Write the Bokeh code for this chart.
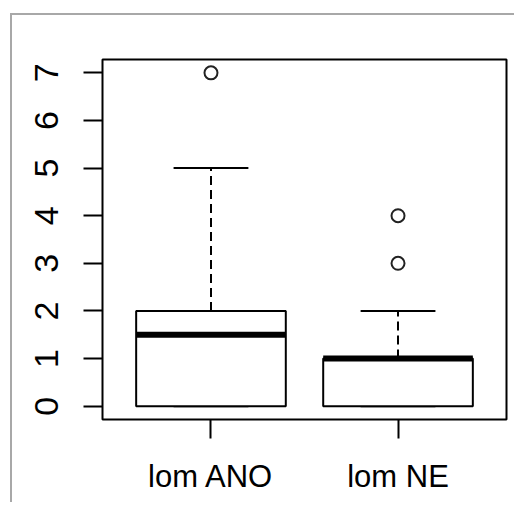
from bokeh.plotting import figure
from bokeh.models import ColumnDataSource, Range1d, FactorRange
from bokeh.transform import dodge
from bokeh.embed import file_html
from bokeh.resources import INLINE

# Data
categories = ["lom ANO", "lom NE"]
q1 = [0, 0]
median = [1.5, 1]
q3 = [2, 1]
lower = [0, 0]
upper = [5, 2]
out_cat = ["lom ANO", "lom NE", "lom NE"]
out_val = [7, 3, 4]
y_ticks = [0, 1, 2, 3, 4, 5, 6, 7]

FONT = "Liberation Sans"
GREY = "#a8a8a8"

p = figure(
    width=514, height=502,
    x_range=FactorRange(factors=categories, range_padding=0.08),
    y_range=Range1d(-0.28, 7.28),
    output_backend="svg", toolbar_location=None,
    min_border_left=102, min_border_right=8, min_border_top=59, min_border_bottom=83,
)
p.grid.visible = False
p.background_fill_color = "white"
p.border_fill_color = None
p.outline_line_color = "black"
p.outline_line_width = 2
# outer grey frame of the image (drawn behind the transparent canvas border)
p.styles = {
    "background-color": "white",
    "background-image": f"linear-gradient({GREY},{GREY}), linear-gradient({GREY},{GREY})",
    "background-size": "2px 100%, 100% 2px",
    "background-position": "10px 13px, 10px 13px",
    "background-repeat": "no-repeat",
}

src = ColumnDataSource(dict(cat=categories, q1=q1, med=median, q3=q3, lo=lower, up=upper))
xl = dodge("cat", -0.4, range=p.x_range)
xr = dodge("cat", 0.4, range=p.x_range)
cl = dodge("cat", -0.2, range=p.x_range)
cr = dodge("cat", 0.2, range=p.x_range)

# whiskers (dashed)
p.segment(x0="cat", x1="cat", y0="q3", y1="up", source=src,
          line_color="black", line_width=2, line_dash="9 5")
p.segment(x0="cat", x1="cat", y0="lo", y1="q1", source=src,
          line_color="black", line_width=2, line_dash="9 5")
# caps
p.segment(x0=cl, x1=cr, y0="up", y1="up", source=src, line_color="black", line_width=2)
p.segment(x0=cl, x1=cr, y0="lo", y1="lo", source=src, line_color="black", line_width=2)
# boxes
p.vbar(x="cat", width=0.8, bottom="q1", top="q3", source=src,
       fill_color="white", line_color="black", line_width=2)
# medians
p.segment(x0=xl, x1=xr, y0="med", y1="med", source=src, line_color="black", line_width=6)
# outliers
p.scatter(x=out_cat, y=out_val, size=13, marker="circle",
          fill_color="white", line_color="#222222", line_width=2)

# axes
p.yaxis.ticker = y_ticks
p.yaxis.major_label_orientation = "vertical"
for ax in (p.xaxis[0], p.yaxis[0]):
    ax.axis_line_color = None
    ax.major_tick_in = 0
    ax.major_tick_out = 19
    ax.major_tick_line_width = 2
    ax.major_tick_line_color = "black"
    ax.minor_tick_line_color = None
    ax.major_label_text_font = FONT
    ax.major_label_text_color = "black"
p.yaxis.major_label_text_font_size = "34px"
p.xaxis.major_label_text_font_size = "31px"
p.yaxis.major_label_standoff = 25
p.xaxis.major_label_standoff = 20

open("out.html", "w").write(file_html(p, INLINE))
